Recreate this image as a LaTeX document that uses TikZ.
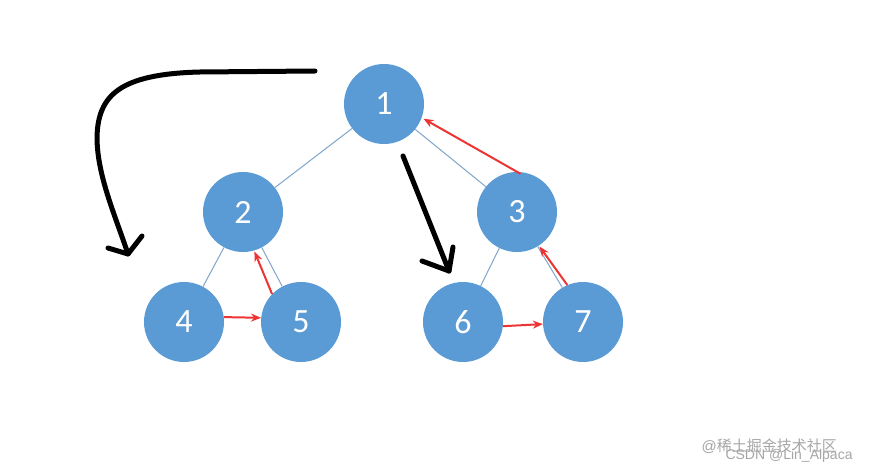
\documentclass[tikz,border=0pt]{standalone}
\usepackage{fontspec}
\setmainfont{Carlito}
\newfontfamily\cjkfont{Noto Sans CJK SC}
\newfontfamily\wmfont{Liberation Sans}
\usetikzlibrary{arrows.meta}
\definecolor{nodeblue}{HTML}{5B9BD5}
\definecolor{edgeblue}{HTML}{7FA6CC}
\definecolor{redarrow}{HTML}{EE3333}
\begin{document}
\begin{tikzpicture}[x=1pt,y=-1pt,
  treenode/.style={circle,fill=nodeblue,minimum size=80pt,inner sep=0pt,text=white,font=\fontsize{34}{34}\selectfont},
  treeedge/.style={draw=edgeblue,line width=1pt},
  redarr/.style={draw=redarrow,line width=2pt,-{Stealth[length=10pt,width=8pt]}},
  blackpen/.style={draw=black,line width=5pt,line cap=round,line join=round},
  wm/.style={text=gray!70,font=\fontsize{15}{15}\selectfont}]
\useasboundingbox[fill=white] (0,0) rectangle (874,473);
\node[treenode] (n1) at (384,104) {1};
\node[treenode] (n2) at (243,212) {2};
\node[treenode] (n3) at (517,212) {3};
\node[treenode] (n4) at (184,322) {4};
\node[treenode] (n5) at (301,322) {5};
\node[treenode] (n6) at (463,322) {6};
\node[treenode] (n7) at (583,322) {7};
\path[treeedge] (n1) -- (n2);
\path[treeedge] (n1) -- (n3);
\path[treeedge] (n2) -- (n4);
\path[treeedge] (n2) -- (n5);
\path[treeedge] (n3) -- (n6);
\path[treeedge] (n3) -- (n7);
\draw[redarr,shorten <=-4pt,shorten >=2pt] (n3.north) -- (n1.-20);
\draw[redarr,shorten >=1pt] (n5.136) -- (n2.-74);
\draw[redarr] (n4.7) -- (n5.174);
\draw[redarr] (n6.-6) -- (n7.-177);
\draw[redarr,shorten >=1pt] (n7.113) -- (n3.-57);
% black hand-drawn arrows
\coordinate (a1s) at (315,71);
\coordinate (a1e) at (128,254);
\coordinate (a1l) at (108,248);
\coordinate (a1r) at (142,236);
\draw[blackpen] (a1s) -- (200,72) .. controls (120,74) and (98,95) .. (97,137)
  .. controls (97,175) and (115,215) .. (a1e);
\draw[blackpen] (a1l) -- (a1e) -- (a1r);
\coordinate (a2s) at (403,156);
\coordinate (a2e) at (449,271);
\coordinate (a2l) at (422,261);
\coordinate (a2r) at (453,247);
\draw[blackpen] (a2s) -- (a2e);
\draw[blackpen] (a2l) -- (a2e) -- (a2r);
% watermarks
\node[wm,anchor=west] (wm1) at (698,446) {\wmfont @\cjkfont 稀土掘金技术社区};
\node[wm,anchor=west,font=\fontsize{14}{14}\selectfont] (wm2) at (722,456) {\wmfont CSDN @Lin\_Alpaca};
\end{tikzpicture}
\end{document}
